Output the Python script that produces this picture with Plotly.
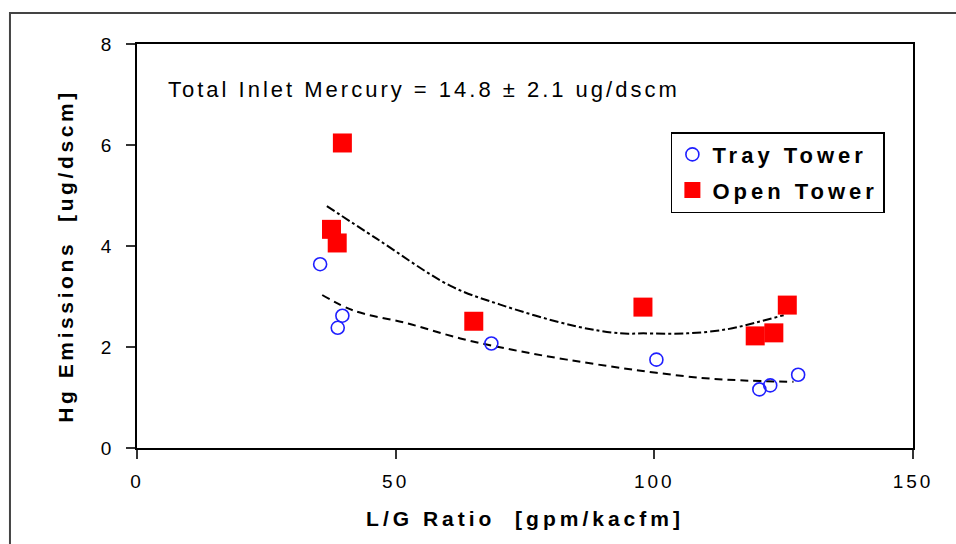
import plotly.graph_objects as go

# ---- data ----
tray_x = [35.4, 39.7, 38.8, 68.5, 100.4, 120.3, 122.4, 127.8]
tray_y = [3.64, 2.62, 2.38, 2.07, 1.75, 1.16, 1.24, 1.45]
open_x = [39.7, 37.6, 38.7, 65.1, 97.8, 119.5, 123.1, 125.7]
open_y = [6.04, 4.33, 4.06, 2.51, 2.79, 2.22, 2.28, 2.83]

open_fit_x = [36.7, 46.4, 60.6, 70.2, 84.4, 93.4, 97.9, 106.3, 114.0, 119.8, 125.0]
open_fit_y = [4.79, 4.14, 3.21, 2.84, 2.42, 2.27, 2.27, 2.27, 2.35, 2.49, 2.63]
tray_fit_x = [35.8, 41.9, 52.2, 62.5, 72.8, 83.1, 96.0, 108.9, 116.6, 126.9]
tray_fit_y = [3.03, 2.72, 2.47, 2.17, 1.94, 1.75, 1.55, 1.39, 1.34, 1.31]

x_ticks = [0, 50, 100, 150]
y_ticks = [0, 2, 4, 6, 8]

FONT = "Liberation Sans, Arial, sans-serif"

fig = go.Figure()
fig.add_trace(go.Scatter(x=open_fit_x, y=open_fit_y, mode="lines", showlegend=False,
                         line=dict(color="black", width=2, dash="dashdot", shape="spline"),
                         hoverinfo="skip"))
fig.add_trace(go.Scatter(x=tray_fit_x, y=tray_fit_y, mode="lines", showlegend=False,
                         line=dict(color="black", width=2, dash="8px,5px", shape="spline"),
                         hoverinfo="skip"))
fig.add_trace(go.Scatter(x=tray_x, y=tray_y, mode="markers", name="Tray Tower",
                         legendgroup="a",
                         marker=dict(symbol="circle-open", size=13, color="#1f1fff",
                                     line=dict(width=1.6, color="#1f1fff"))))
fig.add_trace(go.Scatter(x=open_x, y=open_y, mode="markers", name="Open Tower",
                         legendgroup="b",
                         marker=dict(symbol="square", size=19, color="#ff0000",
                                     line=dict(width=0))))

tickfont = dict(family=FONT, size=19, color="black")
fig.update_layout(
    width=956, height=544,
    margin=dict(l=137, r=43, t=44, b=96),
    paper_bgcolor="white", plot_bgcolor="white",
    font=dict(family=FONT, color="black"),
    xaxis=dict(range=[0, 150], tickvals=x_ticks, ticks="outside", ticklen=9,
               tickwidth=1.5, tickcolor="#333", showline=True, linecolor="black",
               linewidth=2, mirror=True, showgrid=False, zeroline=False,
               tickfont=tickfont, ticklabelstandoff=6,
               title=dict(text="L/G Ratio \u00a0[gpm/kacfm]", standoff=20,
                          font=dict(family=FONT, size=21, color="black", weight="bold"))),
    yaxis=dict(range=[0, 8], tickvals=y_ticks, ticks="outside", ticklen=9,
               tickwidth=1.5, tickcolor="#333", showline=True, linecolor="black",
               linewidth=1.5, mirror=True, showgrid=False, zeroline=False,
               tickfont=tickfont, ticklabelstandoff=8),
    xaxis2=dict(range=[0, 150], tickvals=x_ticks, overlaying="x", anchor="y", side="bottom",
                ticks="inside", ticklen=7, tickwidth=1.5, tickcolor="#333",
                showticklabels=False, showline=False, showgrid=False, zeroline=False),
    yaxis2=dict(range=[0, 8], tickvals=y_ticks, overlaying="y", anchor="x", side="left",
                ticks="inside", ticklen=8, tickwidth=1.5, tickcolor="#333",
                showticklabels=False, showline=False, showgrid=False, zeroline=False),
    legend=dict(x=0.688, y=0.782, xanchor="left", yanchor="top",
                bordercolor="black", borderwidth=1.5, bgcolor="white",
                font=dict(family=FONT, size=22, color="black", weight="bold"),
                tracegroupgap=4),
    showlegend=True,
)

fig.add_annotation(text="Total Inlet Mercury = 14.8 \u00b1 2.1 ug/dscm",
                   xref="paper", yref="paper", x=0.0378, y=0.888,
                   xanchor="left", yanchor="middle", showarrow=False,
                   font=dict(family=FONT, size=22, color="black"))
fig.add_annotation(text="Hg Emissions \u00a0[ug/dscm]", textangle=-90,
                   xref="paper", yref="paper", x=-0.093, y=0.4749,
                   xanchor="center", yanchor="middle", showarrow=False,
                   font=dict(family=FONT, size=21, color="black", weight="bold"))

fig.add_shape(type="rect", xref="paper", yref="paper", x0=-0.1637, x1=1.2,
              y0=-0.5, y1=1.0768, line=dict(color="#444", width=2), layer="below")

post = """
document.body.style.margin = '0';
document.body.style.padding = '0';
var css = document.createElement('style');
css.textContent = "body{margin:0;padding:0}" +
  ".annotation-text{letter-spacing:3px}" +
  ".annotation[data-index='1'] .annotation-text{letter-spacing:3.6px}" +
  ".legendtext{letter-spacing:4px}" +
  ".xtick text,.ytick text{letter-spacing:3px}" +
  ".xtitle,.ytitle{letter-spacing:4px}";
document.head.appendChild(css);
var gd = document.getElementById('{plot_id}');
var lay = gd.layout;
lay.legend.font.size = lay.legend.font.size + 0.01;
for (var i = 0; i < lay.annotations.length; i++) {
  lay.annotations[i].font.size = lay.annotations[i].font.size + 0.01;
}
lay.xaxis.title.font.size = lay.xaxis.title.font.size + 0.01;
Plotly.newPlot(gd, gd.data, lay, {displayModeBar: false});
"""
fig.write_html("out.html", post_script=post, config={"displayModeBar": False})
